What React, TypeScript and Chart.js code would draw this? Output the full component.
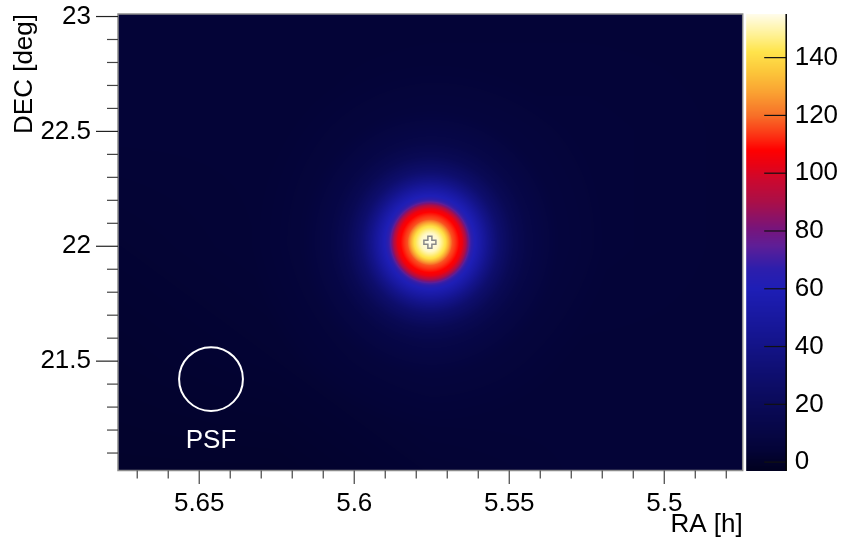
import React, { useEffect, useRef } from 'react';
import { Chart, registerables } from 'chart.js';

Chart.register(...registerables);

// ---------- axis ranges & ticks ----------
const RA_MIN = 5.4747;
const RA_MAX = 5.6762;
const DEC_MIN = 21.024;
const DEC_MAX = 23.011;
const X_MAJOR_TICKS = [5.5, 5.55, 5.6, 5.65];
const X_MINOR_TICKS = [5.48, 5.49, 5.51, 5.52, 5.53, 5.54, 5.56, 5.57, 5.58, 5.59, 5.61, 5.62, 5.63, 5.64, 5.66, 5.67];
const Y_MAJOR_TICKS = [21.5, 22, 22.5, 23];
const Y_MINOR_TICKS = [21.1, 21.2, 21.3, 21.4, 21.6, 21.7, 21.8, 21.9, 22.1, 22.2, 22.3, 22.4, 22.6, 22.7, 22.8, 22.9];
const Z_MIN = -2.9;
const Z_MAX = 155.1;
const Z_TICKS = [0, 20, 40, 60, 80, 100, 120, 140];
const X_TITLE = 'RA [h]';
const Y_TITLE = 'DEC [deg]';

const SOURCE_RA = 5.5756;
const SOURCE_DEC = 22.017;
const PROFILE_R = [0, 0.04, 0.07, 0.1, 0.125, 0.145, 0.16, 0.18, 0.2, 0.23, 0.265, 0.31, 0.376, 0.442, 0.575, 0.8];
const PROFILE_V = [151, 147, 136, 112, 105, 99, 87, 66, 56, 47, 36, 24, 13, 7, 2, 0];

const BG_RA = [5.675, 5.625, 5.575, 5.525, 5.475];
const BG_DEC = [23.0, 22.5, 22.0, 21.5, 21.0];
const BG_ROW_23_0 = [4, 4, 4, 4, 4];
const BG_ROW_22_5 = [4, 4, 5, 5, 4];
const BG_ROW_22_0 = [3, 4, 5, 5, 4];
const BG_ROW_21_5 = [2, 3, 5, 4, 4];
const BG_ROW_21_0 = [1, 1, 3, 4, 4];
const BG_VALUES = [BG_ROW_23_0, BG_ROW_22_5, BG_ROW_22_0, BG_ROW_21_5, BG_ROW_21_0];

// ---------- PSF ----------
const PSF_RA = 5.6462;
const PSF_DEC = 21.422;
const PSF_RADIUS_DEG = 0.139;
const PSF_LABEL = 'PSF';
const PSF_LABEL_DEC = 21.122;

// ---------- colour palette ----------
const PALETTE_V = [-2.9, 0, 4, 10, 20, 32, 46, 60, 67, 75, 81, 90, 98, 103, 108, 113, 120, 128, 135, 142, 148, 155.1];
const PALETTE_RGB: number[][] = [
  [1, 1, 32], [2, 2, 40], [4, 4, 55], [6, 6, 68], [10, 10, 88], [15, 15, 115], [22, 22, 150],
  [30, 30, 182], [45, 30, 172], [95, 30, 150], [120, 20, 122], [170, 15, 72], [205, 8, 45],
  [232, 2, 20], [255, 0, 0], [252, 50, 20], [247, 112, 40], [250, 162, 50], [252, 198, 58],
  [255, 228, 75], [255, 242, 150], [255, 252, 235],
];

const FONT_FAMILY = '"Liberation Sans", Arial, Helvetica, sans-serif';
const FONT_SIZE = 26;

function interp1(xs: number[], ys: number[], x: number): number {
  if (x <= xs[0]) return ys[0];
  const n = xs.length;
  if (x >= xs[n - 1]) return ys[n - 1];
  for (let i = 1; i < n; i++) {
    if (x <= xs[i]) {
      const t = (x - xs[i - 1]) / (xs[i] - xs[i - 1]);
      return ys[i - 1] + t * (ys[i] - ys[i - 1]);
    }
  }
  return ys[n - 1];
}

function colorFor(v: number): number[] {
  if (v <= PALETTE_V[0]) return PALETTE_RGB[0];
  const n = PALETTE_V.length;
  if (v >= PALETTE_V[n - 1]) return PALETTE_RGB[n - 1];
  for (let i = 1; i < n; i++) {
    if (v <= PALETTE_V[i]) {
      const t = (v - PALETTE_V[i - 1]) / (PALETTE_V[i] - PALETTE_V[i - 1]);
      const a = PALETTE_RGB[i - 1];
      const b = PALETTE_RGB[i];
      return [a[0] + t * (b[0] - a[0]), a[1] + t * (b[1] - a[1]), a[2] + t * (b[2] - a[2])];
    }
  }
  return PALETTE_RGB[n - 1];
}

// fractional index in a monotonic (possibly decreasing) node list
function fracIndex(nodes: number[], v: number): number {
  const n = nodes.length;
  const dec = nodes[0] > nodes[n - 1];
  for (let i = 1; i < n; i++) {
    const lo = nodes[i - 1];
    const hi = nodes[i];
    const inside = dec ? v >= hi : v <= hi;
    if (inside) {
      const t = (v - lo) / (hi - lo);
      return i - 1 + Math.max(0, Math.min(1, t));
    }
  }
  return n - 1;
}

function bgValue(ra: number, dec: number): number {
  const fi = fracIndex(BG_RA, ra);
  const fj = fracIndex(BG_DEC, dec);
  const i0 = Math.min(Math.floor(fi), BG_RA.length - 2);
  const j0 = Math.min(Math.floor(fj), BG_DEC.length - 2);
  const ti = fi - i0;
  const tj = fj - j0;
  const v00 = BG_VALUES[j0][i0];
  const v10 = BG_VALUES[j0][i0 + 1];
  const v01 = BG_VALUES[j0 + 1][i0];
  const v11 = BG_VALUES[j0 + 1][i0 + 1];
  return (v00 * (1 - ti) + v10 * ti) * (1 - tj) + (v01 * (1 - ti) + v11 * ti) * tj;
}

const skyMapPlugin = {
  id: 'skyMap',
  beforeDatasetsDraw(chart: any) {
    const { ctx, chartArea } = chart;
    const xs = chart.scales.x;
    const ys = chart.scales.y;
    const left = Math.round(chartArea.left);
    const top = Math.round(chartArea.top);
    const w = Math.round(chartArea.right) - left;
    const h = Math.round(chartArea.bottom) - top;
    const off = document.createElement('canvas');
    off.width = w;
    off.height = h;
    const octx = off.getContext('2d')!;
    const img = octx.createImageData(w, h);
    const raCol: number[] = [];
    for (let i = 0; i < w; i++) raCol.push(xs.getValueForPixel(left + i + 0.5));
    for (let j = 0; j < h; j++) {
      const dec = ys.getValueForPixel(top + j + 0.5);
      const cosd = Math.cos((dec * Math.PI) / 180);
      const dy = dec - SOURCE_DEC;
      for (let i = 0; i < w; i++) {
        const ra = raCol[i];
        const dx = (ra - SOURCE_RA) * 15 * cosd;
        const r = Math.sqrt(dx * dx + dy * dy);
        const v = bgValue(ra, dec) + interp1(PROFILE_R, PROFILE_V, r);
        const c = colorFor(v);
        const k = (j * w + i) * 4;
        img.data[k] = c[0];
        img.data[k + 1] = c[1];
        img.data[k + 2] = c[2];
        img.data[k + 3] = 255;
      }
    }
    octx.putImageData(img, 0, 0);
    ctx.save();
    ctx.drawImage(off, left, top, w, h);
    ctx.restore();
  },
  afterDatasetsDraw(chart: any) {
    const { ctx } = chart;
    const xs = chart.scales.x;
    const ys = chart.scales.y;
    ctx.save();
    // PSF circle
    const cx = xs.getPixelForValue(PSF_RA);
    const cy = ys.getPixelForValue(PSF_DEC);
    const rad = Math.abs(ys.getPixelForValue(PSF_DEC + PSF_RADIUS_DEG) - cy);
    ctx.beginPath();
    ctx.arc(cx, cy, rad, 0, Math.PI * 2);
    ctx.strokeStyle = '#ffffff';
    ctx.lineWidth = 2;
    ctx.stroke();
    ctx.fillStyle = '#ffffff';
    ctx.font = `${FONT_SIZE}px ${FONT_FAMILY}`;
    ctx.textAlign = 'center';
    ctx.textBaseline = 'alphabetic';
    ctx.fillText(PSF_LABEL, cx, ys.getPixelForValue(PSF_LABEL_DEC));
    // source marker (outlined plus)
    const sx = xs.getPixelForValue(SOURCE_RA);
    const sy = ys.getPixelForValue(SOURCE_DEC);
    const a = 6;
    const b = 2;
    ctx.beginPath();
    ctx.moveTo(sx - b, sy - a);
    ctx.lineTo(sx + b, sy - a);
    ctx.lineTo(sx + b, sy - b);
    ctx.lineTo(sx + a, sy - b);
    ctx.lineTo(sx + a, sy + b);
    ctx.lineTo(sx + b, sy + b);
    ctx.lineTo(sx + b, sy + a);
    ctx.lineTo(sx - b, sy + a);
    ctx.lineTo(sx - b, sy + b);
    ctx.lineTo(sx - a, sy + b);
    ctx.lineTo(sx - a, sy - b);
    ctx.lineTo(sx - b, sy - b);
    ctx.closePath();
    ctx.strokeStyle = '#8a8a8a';
    ctx.lineWidth = 1.5;
    ctx.stroke();
    ctx.restore();
  },
  afterDraw(chart: any) {
    const { ctx, chartArea } = chart;
    const xs = chart.scales.x;
    const ys = chart.scales.y;
    const zs = chart.scales.z;
    ctx.save();
    // frame
    ctx.strokeStyle = '#8c8c8c';
    ctx.lineWidth = 1.5;
    ctx.strokeRect(chartArea.left, chartArea.top, chartArea.right - chartArea.left, chartArea.bottom - chartArea.top);
    // x ticks
    ctx.lineWidth = 1.2;
    const drawX = (v: number, len: number, col: string) => {
      const p = xs.getPixelForValue(v);
      ctx.strokeStyle = col;
      ctx.beginPath();
      ctx.moveTo(p, chartArea.bottom);
      ctx.lineTo(p, chartArea.bottom + len);
      ctx.stroke();
    };
    X_MINOR_TICKS.forEach((v) => drawX(v, 8, '#444'));
    X_MAJOR_TICKS.forEach((v) => drawX(v, 13.5, '#444'));
    const drawY = (v: number, len: number, col: string) => {
      const p = ys.getPixelForValue(v);
      ctx.strokeStyle = col;
      ctx.beginPath();
      ctx.moveTo(chartArea.left, p);
      ctx.lineTo(chartArea.left - len, p);
      ctx.stroke();
    };
    Y_MINOR_TICKS.forEach((v) => drawY(v, 11, '#444'));
    Y_MAJOR_TICKS.forEach((v) => drawY(v, 22, '#222'));
    // x-axis title, right-aligned to the end of the (reversed) axis
    ctx.fillStyle = '#000';
    ctx.font = `${FONT_SIZE}px ${FONT_FAMILY}`;
    ctx.textAlign = 'right';
    ctx.textBaseline = 'alphabetic';
    ctx.fillText(X_TITLE, chartArea.right, xs.bottom - 9.5);
    // colour bar
    const barL = chartArea.right + 3.5;
    const barR = chartArea.right + 43.5;
    const t = Math.round(zs.top);
    const bt = Math.round(zs.bottom);
    for (let py = t; py < bt; py++) {
      const v = zs.getValueForPixel(py + 0.5);
      const c = colorFor(v);
      ctx.fillStyle = `rgb(${Math.round(c[0])},${Math.round(c[1])},${Math.round(c[2])})`;
      ctx.fillRect(barL, py, barR - barL, 1);
    }
    ctx.strokeStyle = '#111';
    ctx.lineWidth = 1.2;
    Z_TICKS.forEach((v) => {
      const p = zs.getPixelForValue(v);
      ctx.beginPath();
      ctx.moveTo(barR - 22, p);
      ctx.lineTo(barR, p);
      ctx.stroke();
    });
    ctx.strokeStyle = '#000';
    ctx.lineWidth = 1.5;
    ctx.beginPath();
    ctx.moveTo(barR, t);
    ctx.lineTo(barR, bt);
    ctx.stroke();
    ctx.restore();
  },
};

const fmt = (v: number) => String(parseFloat(Number(v).toFixed(3)));

// invisible tick marks used only to offset the labels from the axis
const spacerGrid = (len: number) => ({
  display: true,
  drawOnChartArea: false,
  drawTicks: true,
  tickLength: len,
  tickColor: 'rgba(0,0,0,0)',
  color: 'rgba(0,0,0,0)',
});

export default function App() {
  const ref = useRef<HTMLCanvasElement | null>(null);
  useEffect(() => {
    if (!ref.current) return;
    const tickFont = { family: FONT_FAMILY, size: FONT_SIZE, lineHeight: 1 };
    const titleFont = { family: FONT_FAMILY, size: FONT_SIZE, lineHeight: 1.2 };
    const chart = new Chart(ref.current, {
      type: 'scatter',
      data: {
        datasets: [
          {
            label: 'source',
            data: [{ x: SOURCE_RA, y: SOURCE_DEC }],
            pointRadius: 0,
            xAxisID: 'x',
            yAxisID: 'y',
          },
        ],
      },
      options: {
        responsive: false,
        animation: false,
        devicePixelRatio: 1,
        layout: { padding: { top: 14, left: 0, right: 0, bottom: 0 } },
        plugins: { legend: { display: false }, tooltip: { enabled: false } },
        scales: {
          x: {
            type: 'linear',
            position: 'bottom',
            min: RA_MIN,
            max: RA_MAX,
            reverse: true,
            grid: spacerGrid(20),
            border: { display: false },
            afterBuildTicks: (s: any) => {
              s.ticks = X_MAJOR_TICKS.map((v) => ({ value: v }));
            },
            afterFit: (s: any) => {
              s.height = 70.5;
            },
            ticks: { color: '#000', font: tickFont, padding: 0, maxRotation: 0, autoSkip: false, callback: (v: any) => fmt(v) },
            title: { display: false, text: X_TITLE },
          },
          y: {
            type: 'linear',
            position: 'left',
            min: DEC_MIN,
            max: DEC_MAX,
            grid: spacerGrid(27),
            border: { display: false },
            afterBuildTicks: (s: any) => {
              s.ticks = Y_MAJOR_TICKS.map((v) => ({ value: v }));
            },
            afterFit: (s: any) => {
              s.width = 118;
            },
            ticks: { color: '#000', font: tickFont, padding: 0, autoSkip: false, callback: (v: any) => fmt(v) },
            title: { display: true, text: Y_TITLE, align: 'end', color: '#000', font: titleFont, padding: { top: 8.8, bottom: 0 } },
          },
          z: {
            type: 'linear',
            position: 'right',
            axis: 'y',
            min: Z_MIN,
            max: Z_MAX,
            grid: spacerGrid(52),
            border: { display: false },
            afterBuildTicks: (s: any) => {
              s.ticks = Z_TICKS.map((v) => ({ value: v }));
            },
            afterFit: (s: any) => {
              s.width = 98.3;
            },
            ticks: { color: '#000', font: tickFont, padding: 0, autoSkip: false, callback: (v: any) => fmt(v) },
          },
        },
      },
      plugins: [skyMapPlugin],
    } as any);
    return () => chart.destroy();
  }, []);
  return (
    <div style={{ position: 'absolute', left: 0, top: 0, width: 841, height: 541 }}>
      <canvas ref={ref} width={841} height={541} style={{ display: 'block', width: 841, height: 541 }} />
    </div>
  );
}
